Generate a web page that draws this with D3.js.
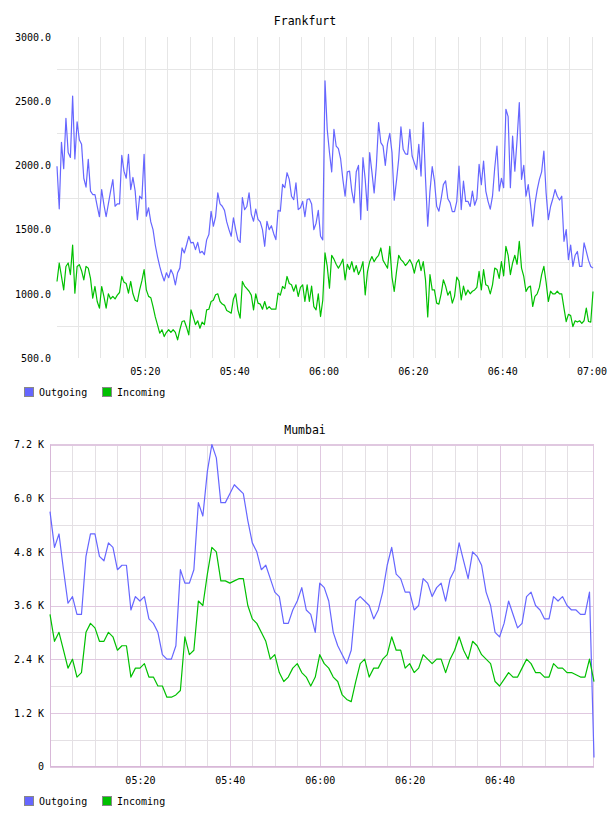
<!DOCTYPE html>
<html><head><meta charset="utf-8">
<script src="https://cdn.jsdelivr.net/npm/d3@7"></script>
<style>
body{margin:0;background:#fff;}
text{font-family:"DejaVu Sans Mono",monospace;fill:#000;}
</style></head>
<body><svg id="c" width="608" height="816"></svg>
<script>
// ---------- DATA ----------
const seriesNames = ["Outgoing", "Incoming"];
const seriesColors = ["#6666ff", "#00c000"];

// Frankfurt: samples every 30 s starting 05:00:20
const fraStart = "05:00:20";
const fraStepSec = 30;
const fraOutgoing = [
1994,1662,2180,1974,2367,2100,2062,2540,2050,2340,2200,2164,1900,1830,2047,1800,1773,1773,1682,1600,
1812,1695,1600,1700,1800,1890,1682,1700,1700,2078,1955,1900,2086,1812,1906,1800,1578,1760,1740,2086,
1604,1670,1560,1500,1380,1290,1213,1150,1100,1164,1125,1188,1150,1070,1164,1200,1357,1318,1380,1448,
1396,1400,1344,1400,1318,1331,1305,1420,1461,1643,1526,1600,1786,1700,1682,1650,1560,1500,1448,1591,
1500,1420,1400,1750,1656,1680,1786,1620,1565,1660,1580,1560,1500,1370,1565,1500,1530,1470,1422,1650,
1643,1852,1826,1943,1891,1760,1734,1865,1656,1670,1720,1600,1734,1740,1700,1500,1550,1650,1448,1420,
2659,2280,2100,1950,2280,2151,2130,2050,1891,1760,1950,1955,1800,1708,1950,2000,1578,2060,1891,1650,
2099,1950,1786,2000,2333,2177,2150,2000,2170,2250,2100,1729,1880,2050,2300,2125,2090,2086,2280,2073,
2020,1969,2164,1917,2336,1900,1526,1800,1990,1880,1682,1643,1740,1850,1880,1740,1710,1640,1640,1720,
1994,1656,1877,1720,1720,1680,1800,1690,1740,2008,1850,2034,1800,1720,1660,1760,1982,2151,1800,1900,
1826,2437,2380,1826,2229,1955,2200,2490,1891,2000,1760,1850,1700,1526,1700,1810,1891,1950,2112,1786,
1578,1680,1740,1812,1760,1730,1760,1409,1500,1266,1380,1213,1300,1330,1213,1213,1396,1330,1260,1213,
1200];
const fraIncoming = [
1096,1240,1135,1031,1213,1240,1150,1380,1005,1213,1227,1180,1109,1213,1200,1120,966,1057,940,888,
1057,980,888,1000,960,980,960,990,1010,1135,1090,1080,1005,1096,1000,950,940,1030,1100,1188,
1031,980,970,900,820,758,693,720,667,700,720,700,720,700,641,720,784,790,740,680,
875,820,760,790,732,780,760,875,880,940,950,992,1000,940,920,910,870,860,849,960,
1000,875,810,1096,1060,1040,1020,990,875,1000,927,920,880,940,880,900,880,880,880,1005,
990,1057,1040,1135,1080,1070,1020,1070,979,1050,1070,940,1070,940,1060,900,875,1000,823,950,
1318,1213,1044,1300,1270,1230,1200,1230,1270,1109,1230,1190,1250,1170,1220,1150,1190,1250,992,1170,
1250,1290,1250,1280,1300,1357,1260,1230,1200,1370,1130,1018,1170,1300,1266,1250,1220,1240,1266,1230,
1161,1240,1266,1180,1250,1109,820,1150,1030,1030,927,920,1000,1109,1060,990,1020,927,980,1130,
1100,953,1060,990,1030,1000,1020,1030,1050,1174,1030,1188,1070,1060,1000,1070,1200,1190,1120,1250,
1140,1370,1300,1150,1240,1300,1230,1409,1200,1135,1018,1050,1060,901,980,1000,1050,1150,1213,1090,
940,1020,1000,1000,1020,1000,1000,888,784,840,830,745,790,780,790,770,790,888,784,780,
1018];
const fraYTicks = [500, 1000, 1500, 2000, 2500, 3000];
const fraXTicks = ["05:20", "05:40", "06:00", "06:20", "06:40", "07:00"];

// Mumbai: samples every minute starting 05:00 (values in K)
const mumStart = "05:00:00";
const mumStepSec = 60;
const mumOutgoing = [
5.7,4.9,5.2,4.4,3.65,3.8,3.4,3.4,4.7,5.2,5.2,4.7,4.6,5.0,4.9,4.4,4.5,4.5,3.5,3.8,
3.7,3.8,3.3,3.2,3.0,2.5,2.4,2.4,2.7,4.4,4.1,4.1,4.4,5.9,5.6,6.6,7.2,6.9,5.9,5.9,
6.1,6.3,6.2,6.1,5.5,5.0,4.8,4.4,4.5,4.2,3.9,3.8,3.2,3.2,3.5,3.7,4.0,3.5,3.4,3.0,
4.1,4.0,3.7,3.0,2.7,2.5,2.3,2.6,3.7,3.8,3.7,3.6,3.3,3.5,3.9,4.5,4.9,4.3,4.2,3.9,
3.9,3.5,3.6,4.2,4.1,3.8,4.0,4.1,3.7,4.2,4.4,5.0,4.6,4.2,4.8,4.7,4.5,3.9,3.6,3.0,
2.9,3.2,3.7,3.4,3.1,3.2,3.8,3.9,3.6,3.5,3.3,3.3,3.8,3.7,3.8,3.6,3.5,3.5,3.4,3.4,
3.9,0.2];
const mumIncoming = [
3.4,2.8,3.0,2.6,2.2,2.4,2.0,2.1,3.0,3.2,3.1,2.8,2.8,3.0,2.9,2.6,2.7,2.7,2.0,2.2,
2.2,2.3,2.0,2.0,1.8,1.8,1.55,1.55,1.6,1.7,2.9,2.5,2.6,3.7,3.6,4.3,4.9,4.8,4.15,4.15,
4.1,4.15,4.2,4.2,3.6,3.3,3.2,3.0,2.8,2.4,2.5,2.1,1.9,2.0,2.2,2.3,2.1,2.0,1.8,2.0,
2.5,2.3,2.2,2.0,1.9,1.6,1.5,1.45,1.9,2.3,2.4,2.0,2.2,2.2,2.4,2.5,2.9,2.6,2.6,2.2,
2.3,2.1,2.2,2.5,2.4,2.3,2.4,2.4,2.1,2.4,2.6,2.9,2.6,2.4,2.8,2.7,2.5,2.4,2.3,1.9,
1.8,1.95,2.1,2.0,2.0,2.2,2.4,2.3,2.1,2.1,2.0,2.0,2.3,2.2,2.2,2.1,2.1,2.05,2.0,2.0,
2.4,1.9];
const mumYTicks = [0, 1.2, 2.4, 3.6, 4.8, 6.0, 7.2];
const mumYLabels = ["0", "1.2 K", "2.4 K", "3.6 K", "4.8 K", "6.0 K", "7.2 K"];
const mumXTicks = ["05:20", "05:40", "06:00", "06:20", "06:40"];

// ---------- DRAW ----------
const svg = d3.select("#c");
const parseT = d3.timeParse("%H:%M:%S");
const parseHM = d3.timeParse("%H:%M");
const fmtHM = d3.timeFormat("%H:%M");

function series(startStr, stepSec, vals){
  const t0 = parseT(startStr);
  return vals.map((v,i)=>({t:new Date(t0.getTime()+i*stepSec*1000), v}));
}

function legend(y){
  const g = svg.append("g");
  const items = [{x:24},{x:102}];
  items.forEach((it,i)=>{
    g.append("rect").attr("x",it.x+0.5).attr("y",y+0.5).attr("width",9).attr("height",9)
      .attr("fill",seriesColors[i]).attr("stroke","#888").attr("stroke-width",1);
    g.append("text").attr("x",it.x+15).attr("y",y+5).attr("dy","0.35em")
      .attr("font-size","10px").text(seriesNames[i]);
  });
}

// ---- Frankfurt ----
(function(){
  const x = d3.scaleTime().domain([parseT("05:00:20"), parseT("07:00:20")]).range([57, 593]);
  const y = d3.scaleLinear().domain([500, 3000]).range([358, 37]);
  const g = svg.append("g");
  const vgrid = d3.timeMinute.every(5).range(parseT("05:05:00"), parseT("07:00:30"));
  g.selectAll(".vg").data(vgrid).join("line")
    .attr("x1",d=>Math.round(x(d))+0.5).attr("x2",d=>Math.round(x(d))+0.5)
    .attr("y1",37).attr("y2",358).attr("stroke","#e6e6e6").attr("stroke-width",1);
  const hgrid = fraYTicks.slice(0,-1).map(v=>v+250);
  g.selectAll(".hg").data(hgrid).join("line")
    .attr("x1",57).attr("x2",593)
    .attr("y1",d=>Math.round(y(d))+0.5).attr("y2",d=>Math.round(y(d))+0.5)
    .attr("stroke","#e6e6e6").attr("stroke-width",1);
  const ya = d3.axisLeft(y).tickValues(fraYTicks).tickFormat(d3.format(".1f")).tickSize(0).tickPadding(6);
  const yg = g.append("g").attr("transform","translate(57,0)").call(ya);
  yg.select(".domain").remove();
  yg.selectAll("text").attr("font-size","10px").attr("font-family","DejaVu Sans Mono").attr("fill","#000");
  const xa = d3.axisBottom(x).tickValues(fraXTicks.map(s=>parseHM(s))).tickFormat(fmtHM).tickSize(0).tickPadding(10);
  const xg = g.append("g").attr("transform","translate(0,358)").call(xa);
  xg.select(".domain").remove();
  xg.selectAll("text").attr("font-size","10px").attr("font-family","DejaVu Sans Mono").attr("fill","#000");
  const line = d3.line().x(d=>x(d.t)).y(d=>y(d.v));
  [fraOutgoing, fraIncoming].forEach((vals,i)=>{
    g.append("path").datum(series(fraStart, fraStepSec, vals)).attr("d",line)
      .attr("fill","none").attr("stroke",seriesColors[i]).attr("stroke-width",1.2)
      .attr("stroke-linejoin","round");
  });
  svg.append("text").attr("x",305).attr("y",21).attr("dy","0.35em").attr("text-anchor","middle")
    .attr("font-size","11.5px").text("Frankfurt");
  legend(387);
})();

// ---- Mumbai ----
(function(){
  const x = d3.scaleTime().domain([parseT("05:00:00"), parseT("07:01:00")]).range([50, 594]);
  const y = d3.scaleLinear().domain([0, 7.2]).range([766.5, 444.5]);
  const g = svg.append("g");
  const minorV = d3.timeMinute.every(5).range(parseT("05:05:00"), parseT("07:00:30"))
    .filter(d=>d.getMinutes()%20!==0);
  const majorV = mumXTicks.map(s=>parseHM(s));
  g.selectAll(".mv").data(minorV).join("line")
    .attr("x1",d=>Math.round(x(d))+0.5).attr("x2",d=>Math.round(x(d))+0.5)
    .attr("y1",444.5).attr("y2",766.5).attr("stroke","#e4e0e4");
  const minorH = mumYTicks.slice(0,-1).map(v=>v+0.6);
  g.selectAll(".mh").data(minorH).join("line")
    .attr("x1",50).attr("x2",594)
    .attr("y1",d=>Math.round(y(d))+0.5).attr("y2",d=>Math.round(y(d))+0.5)
    .attr("stroke","#e4e0e4");
  g.selectAll(".jv").data(majorV).join("line")
    .attr("x1",d=>Math.round(x(d))+0.5).attr("x2",d=>Math.round(x(d))+0.5)
    .attr("y1",444.5).attr("y2",766.5).attr("stroke","#e0c8e0");
  g.selectAll(".jh").data(mumYTicks).join("line")
    .attr("x1",50).attr("x2",594)
    .attr("y1",d=>Math.round(y(d))+0.5).attr("y2",d=>Math.round(y(d))+0.5)
    .attr("stroke","#e0c8e0");
  g.append("rect").attr("x",50.5).attr("y",444.5).attr("width",543).attr("height",322)
    .attr("fill","none").attr("stroke","#e0c8e0");
  g.append("line").attr("x1",50.5).attr("x2",50.5).attr("y1",444.5).attr("y2",767).attr("stroke","#d8b8d8");
  g.append("line").attr("x1",50).attr("x2",594).attr("y1",766.5).attr("y2",766.5).attr("stroke","#d8b8d8");
  const ya = d3.axisLeft(y).tickValues(mumYTicks).tickFormat((d,i)=>mumYLabels[i]).tickSize(0).tickPadding(6);
  const yg = g.append("g").attr("transform","translate(50,0)").call(ya);
  yg.select(".domain").remove();
  yg.selectAll("text").attr("font-size","10px").attr("font-family","DejaVu Sans Mono").attr("fill","#000");
  const xa = d3.axisBottom(x).tickValues(majorV).tickFormat(fmtHM).tickSize(0).tickPadding(10);
  const xg = g.append("g").attr("transform","translate(0,767)").call(xa);
  xg.select(".domain").remove();
  xg.selectAll("text").attr("font-size","10px").attr("font-family","DejaVu Sans Mono").attr("fill","#000");
  const line = d3.line().x(d=>x(d.t)).y(d=>y(d.v));
  [mumOutgoing, mumIncoming].forEach((vals,i)=>{
    g.append("path").datum(series(mumStart, mumStepSec, vals)).attr("d",line)
      .attr("fill","none").attr("stroke",seriesColors[i]).attr("stroke-width",1.2)
      .attr("stroke-linejoin","round");
  });
  svg.append("text").attr("x",305).attr("y",430).attr("dy","0.35em").attr("text-anchor","middle")
    .attr("font-size","11.5px").text("Mumbai");
  legend(796);
})();
</script></body></html>
